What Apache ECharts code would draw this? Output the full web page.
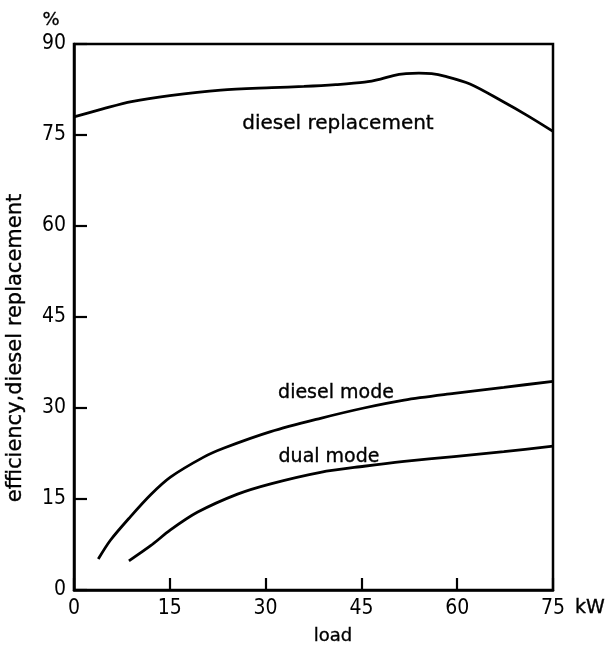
<!DOCTYPE html>
<html><head><meta charset="utf-8">
<script src="https://cdn.jsdelivr.net/npm/echarts@6/dist/echarts.min.js"></script>
<style>html,body{margin:0;padding:0;background:#fff}#c{width:606px;height:646px}</style>
</head><body><div id="c"></div>
<script>
const xTicks = [0, 15, 30, 45, 60, 75];
const yTicks = [0, 15, 30, 45, 60, 75, 90];

const replLoad = [0, 4.5, 9, 15, 23, 31, 36, 41, 45.5, 48, 50, 52, 54, 56, 58, 62, 67, 71, 75];
const replValue = [78.0, 79.3, 80.5, 81.5, 82.4, 82.8, 83.0, 83.3, 83.7, 84.2, 84.8, 85.1, 85.2, 85.1, 84.7, 83.4, 80.6, 78.2, 75.6];

const dieselLoad = [3.8, 5.7, 8.85, 12.0, 15.1, 20.3, 23.5, 30.8, 38.6, 45.4, 51.7, 59.5, 67.3, 75];
const dieselValue = [5.1, 8.2, 12.1, 15.7, 18.6, 21.9, 23.4, 26.1, 28.3, 30.0, 31.3, 32.4, 33.4, 34.4];

const dualLoad = [8.6, 12.0, 15.1, 19.3, 25.6, 30.8, 38.6, 45.4, 51.7, 59.5, 67.3, 75];
const dualValue = [4.8, 7.3, 9.9, 12.8, 15.8, 17.5, 19.4, 20.4, 21.2, 22.0, 22.8, 23.7];

const zip = (a, b) => a.map((v, i) => [v, b[i]]);

const tickFont = "'Liberation Sans Narrow', 'DejaVu Sans Condensed', sans-serif";
const textFont = "'DejaVu Sans', sans-serif";

const chart = echarts.init(document.getElementById('c'), null, {renderer: 'canvas'});
const lineStyle = {color: '#000', width: 2.8};
const txt = (s, size) => ({text: s, font: size + "px " + textFont, fill: '#000', stroke: '#000', lineWidth: 0.35, align: 'center', verticalAlign: 'middle'});
const option = {
  backgroundColor: '#fff',
  animation: false,
  grid: {left: 74, right: 53, top: 44, bottom: 56, show: true, borderColor: '#000', borderWidth: 2.5, backgroundColor: 'transparent'},
  xAxis: {
    type: 'value', min: xTicks[0], max: xTicks[xTicks.length - 1], interval: 15,
    axisLine: {lineStyle: {color: '#000', width: 2.5}},
    axisTick: {inside: true, length: 12, lineStyle: {color: '#000', width: 2.2}},
    axisLabel: {color: '#000', fontSize: 21, fontFamily: tickFont, margin: 8},
    splitLine: {show: false}
  },
  yAxis: {
    type: 'value', min: yTicks[0], max: yTicks[yTicks.length - 1], interval: 15,
    axisLine: {show: true, lineStyle: {color: '#000', width: 2.5}},
    axisTick: {show: true, inside: true, length: 13, lineStyle: {color: '#000', width: 2.2}},
    axisLabel: {color: '#000', fontSize: 21, fontFamily: tickFont, margin: 8},
    splitLine: {show: false}
  },
  series: [
    {type: 'line', name: 'diesel replacement', data: zip(replLoad, replValue), smooth: 0.3, showSymbol: false, lineStyle: lineStyle},
    {type: 'line', name: 'diesel mode', data: zip(dieselLoad, dieselValue), smooth: 0.3, showSymbol: false, lineStyle: lineStyle},
    {type: 'line', name: 'dual mode', data: zip(dualLoad, dualValue), smooth: 0.3, showSymbol: false, lineStyle: lineStyle}
  ],
  graphic: [
    {type: 'text', x: 51, y: 20, style: txt('%', 18)},
    {type: 'text', x: 590, y: 608, style: txt('kW', 19)},
    {type: 'text', x: 333, y: 636, style: txt('load', 18)},
    {type: 'text', x: 16, y: 348, rotation: Math.PI / 2, style: txt('efficiency,diesel replacement', 21)},
    {type: 'text', x: 338, y: 124, style: txt('diesel replacement', 20)},
    {type: 'text', x: 336, y: 393, style: txt('diesel mode', 19)},
    {type: 'text', x: 329, y: 457, style: txt('dual mode', 19)}
  ]
};
chart.setOption(option);
</script>
</body></html>
